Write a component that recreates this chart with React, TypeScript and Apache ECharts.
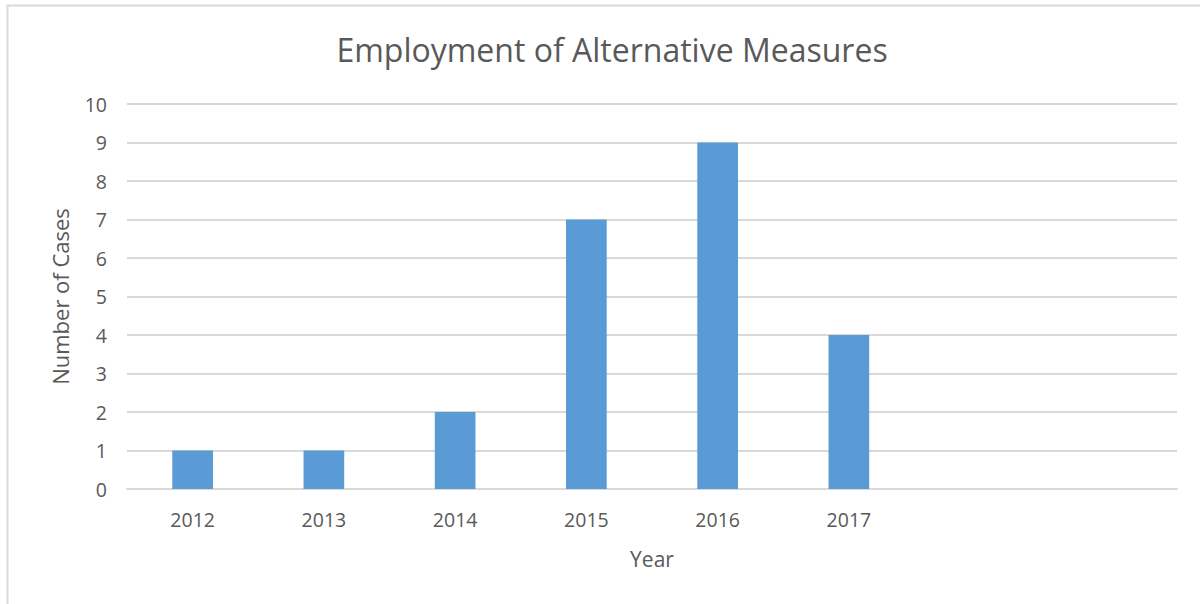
import React, { useEffect, useRef } from "react";
import * as echarts from "echarts";

const categories = ["2012", "2013", "2014", "2015", "2016", "2017", "", ""];
const cases = [1, 1, 2, 7, 9, 4, null, null];
const titleText = "Employment of Alternative Measures";
const xName = "Year";
const yName = "Number of Cases";

const FONT = "'Open Sans', sans-serif";
const TXT = "#595959";

export default function App() {
  const ref = useRef<HTMLDivElement>(null);
  useEffect(() => {
    document.body.style.margin = "0";
    const chart = echarts.init(ref.current!, null, { renderer: "svg" });
    chart.setOption({
      animation: false,
      backgroundColor: "#ffffff",
      textStyle: { fontFamily: FONT },
      title: {
        text: titleText,
        left: 607,
        top: 28,
        textAlign: "center",
        textStyle: { fontFamily: FONT, fontSize: 32, fontWeight: "normal", color: TXT },
      },
      graphic: [
        {
          type: "rect",
          shape: { x: 7.5, y: 5.5, width: 1250, height: 700 },
          style: { fill: "none", stroke: "#d9d9d9", lineWidth: 2 },
          silent: true,
        },
      ],
      grid: { left: 127, right: 23, top: 104, bottom: 115 },
      xAxis: {
        type: "category",
        data: categories,
        name: xName,
        nameLocation: "middle",
        nameGap: 59,
        nameTextStyle: { fontFamily: FONT, fontSize: 21, color: TXT },
        axisLine: { show: true, lineStyle: { color: "#d9d9d9", width: 2 } },
        axisTick: { show: false },
        axisLabel: { fontFamily: FONT, fontSize: 19.5, color: TXT, margin: 20 },
        splitLine: { show: false },
      },
      yAxis: {
        type: "value",
        min: 0,
        max: 10,
        interval: 1,
        name: yName,
        nameLocation: "middle",
        nameGap: 56,
        nameTextStyle: { fontFamily: FONT, fontSize: 22, color: TXT },
        axisLine: { show: false },
        axisTick: { show: false },
        axisLabel: { fontFamily: FONT, fontSize: 19.5, color: TXT, margin: 20 },
        splitLine: { show: true, lineStyle: { color: "#d9d9d9", width: 2 } },
      },
      series: [
        {
          type: "bar",
          data: cases,
          barWidth: "31%",
          itemStyle: { color: "#5b9bd5" },
        },
      ],
    });
    return () => chart.dispose();
  }, []);
  return <div ref={ref} style={{ width: 1200, height: 604 }} />;
}
